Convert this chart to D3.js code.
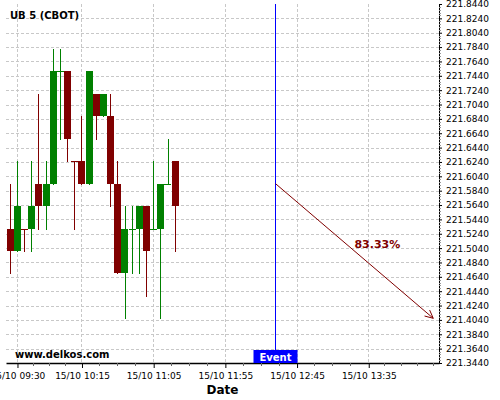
<!DOCTYPE html>
<html><head><meta charset="utf-8">
<script src="https://cdn.jsdelivr.net/npm/d3@7"></script>
<style>body{margin:0;background:#fff;} svg{display:block;font-family:"DejaVu Sans",sans-serif;}</style>
</head><body><svg id="c" width="500" height="400"></svg>
<script>
// ---- data ----
const title = "UB 5 (CBOT)";
const day = "15/10";
const times  = ["09:25","09:30","09:35","09:40","09:45","09:50","09:55","10:00","10:05","10:10","10:15","10:20",
                "10:25","10:30","10:35","10:40","10:45","10:50","10:55","11:00","11:05","11:10","11:15","11:20"];
const opens  = [221.53125,221.5,221.53125,221.53125,221.59375,221.5625,221.59375,221.75,221.75,221.625,221.625,221.59375,
                221.71875,221.6875,221.6875,221.59375,221.46875,221.53125,221.53125,221.5625,221.53125,221.53125,221.59375,221.625];
const highs  = [221.59375,221.625,221.53125,221.625,221.71875,221.625,221.78125,221.78125,221.75,221.625,221.6875,221.75,
                221.71875,221.71875,221.71875,221.625,221.5625,221.5625,221.5625,221.5625,221.625,221.59375,221.65625,221.625];
const lows   = [221.46875,221.5,221.5,221.5,221.53125,221.53125,221.59375,221.65625,221.625,221.53125,221.59375,221.59375,
                221.65625,221.6875,221.5625,221.46875,221.40625,221.46875,221.46875,221.4375,221.53125,221.40625,221.59375,221.5];
const closes = [221.5,221.5625,221.53125,221.5625,221.5625,221.59375,221.75,221.75,221.65625,221.625,221.59375,221.75,
                221.6875,221.71875,221.59375,221.46875,221.53125,221.53125,221.5625,221.5,221.53125,221.59375,221.59375,221.5625];
const xDomainTimes = ["09:22","14:24"];
const xTickTimes = ["09:30","10:15","11:05","11:55","12:45","13:35"];
const yDomain = [221.344, 221.844];
const yTickValues = [221.344,221.364,221.384,221.404,221.424,221.444,221.464,221.484,221.504,221.524,221.544,221.564,221.584,
                     221.604,221.624,221.644,221.664,221.684,221.704,221.724,221.744,221.764,221.784,221.804,221.824,221.844];
const eventTime = "12:30";
const eventLabel = "Event";
const arrowFrom = ["12:30", 221.59375];
const arrowTo   = ["14:20", 221.40625];
const arrowLabel = "83.33%";
const xTitle = "Date";
const watermark = "www.delkos.com";

// ---- setup ----
const parse = d3.timeParse("%d/%m %H:%M");
const t = s => parse(day + " " + s);
const svg = d3.select("#c");
const L = 6, R = 439, T = 4, B = 363;
const x = d3.scaleTime().domain(xDomainTimes.map(t)).range([L, R]);
const y = d3.scaleLinear().domain(yDomain).range([B, T]);
const GREEN = "#008000", RED = "#800000";

// grid
const grid = svg.append("g");
grid.selectAll(".hg").data(yTickValues.slice(1, -1)).enter().append("line")
  .attr("x1", L).attr("x2", R)
  .attr("y1", d => Math.round(y(d)) + 0.5).attr("y2", d => Math.round(y(d)) + 0.5)
  .attr("stroke", "#c8c8c8").attr("stroke-dasharray", "3,2");
grid.selectAll(".vg").data(xTickTimes.map(t)).enter().append("line")
  .attr("y1", T).attr("y2", B)
  .attr("x1", d => Math.floor(x(d)) + 0.5).attr("x2", d => Math.floor(x(d)) + 0.5)
  .attr("stroke", "#c8c8c8").attr("stroke-dasharray", "3,2");

// candles
const data = times.map((s, i) => ({t: t(s), o: opens[i], h: highs[i], l: lows[i], c: closes[i],
  pc: i > 0 ? closes[i-1] : opens[i]}));
const col = d => d.c < d.o ? RED : d.c > d.o ? GREEN : (d.c < d.pc ? RED : GREEN);
const slot = x(t("09:30")) - x(t("09:25"));
const cg = svg.append("g");
cg.selectAll(".w").data(data).enter().append("line")
  .attr("x1", d => Math.floor(x(d.t)) + 0.5).attr("x2", d => Math.floor(x(d.t)) + 0.5)
  .attr("y1", d => Math.round(y(d.h))).attr("y2", d => Math.round(y(d.l)) + 1)
  .attr("stroke", col).attr("stroke-width", 1);
cg.selectAll(".b").data(data).enter().append("rect")
  .attr("x", d => Math.round(x(d.t) - slot / 2))
  .attr("width", Math.round(slot))
  .attr("y", d => Math.round(y(Math.max(d.o, d.c))))
  .attr("height", d => Math.max(1, Math.round(y(Math.min(d.o, d.c))) - Math.round(y(Math.max(d.o, d.c)))))
  .attr("fill", col);

// axes
const xAxis = d3.axisBottom(x).tickValues(xTickTimes.map(t)).tickFormat(d3.timeFormat("%d/%m %H:%M"))
  .tickSize(5).tickSizeOuter(0).tickPadding(5);
const gx = svg.append("g").attr("transform", `translate(0,${B})`).call(xAxis);
gx.select(".domain").attr("stroke", "#000").attr("stroke-width", 1.5);
gx.selectAll("text").attr("font-size", 9).attr("font-family", "DejaVu Sans").attr("fill", "#000");
// minor x ticks
const majors = xTickTimes.map(t);
const minors = [];
for (let i = 0; i < majors.length - 1; i++) {
  const a = +majors[i], b = +majors[i+1];
  for (let k = 1; k < 4; k++) minors.push(new Date(a + (b - a) * k / 4));
}
{
  const step = (+majors[1] - +majors[0]) / 4;
  for (let v = +majors[majors.length-1] + step; v < +x.domain()[1]; v += step) minors.push(new Date(v));
  for (let v = +majors[0] - step; v > +x.domain()[0]; v -= step) minors.push(new Date(v));
}
svg.append("g").selectAll("line").data(minors).enter().append("line")
  .attr("x1", d => Math.floor(x(d)) + 0.5).attr("x2", d => Math.floor(x(d)) + 0.5)
  .attr("y1", B).attr("y2", B + 3).attr("stroke", "#666");

const yAxis = d3.axisRight(y).tickValues(yTickValues).tickFormat(d3.format(".4f"))
  .tickSize(3).tickSizeOuter(0).tickPadding(4);
const gy = svg.append("g").attr("transform", `translate(${R},0)`).call(yAxis);
gy.select(".domain").attr("stroke", "#000");
gy.selectAll("text").attr("font-size", 9).attr("font-family", "DejaVu Sans").attr("fill", "#000");
// minor y ticks
const yMinor = [];
for (let i = 0; i < yTickValues.length - 1; i++) {
  const a = yTickValues[i], b = yTickValues[i+1];
  for (let k = 1; k < 5; k++) yMinor.push(a + (b - a) * k / 5);
}
svg.append("g").selectAll("line").data(yMinor).enter().append("line")
  .attr("x1", R).attr("x2", R + 2)
  .attr("y1", d => Math.round(y(d)) + 0.5).attr("y2", d => Math.round(y(d)) + 0.5)
  .attr("stroke", "#999");

// event line + label
const ex = Math.floor(x(t(eventTime))) + 0.5;
svg.append("line").attr("x1", ex).attr("x2", ex).attr("y1", T).attr("y2", B - 12)
  .attr("stroke", "#0000ff").attr("stroke-width", 1);
svg.append("rect").attr("x", ex - 22).attr("y", B - 13).attr("width", 44).attr("height", 13).attr("fill", "#0000ff");
svg.append("text").attr("x", ex).attr("y", B - 2.5).attr("text-anchor", "middle")
  .attr("font-size", 10).attr("font-weight", "bold").attr("fill", "#fff").text(eventLabel);

// arrow
const x1 = x(t(arrowFrom[0])), y1 = y(arrowFrom[1]), x2 = x(t(arrowTo[0])), y2 = y(arrowTo[1]);
svg.append("line").attr("x1", x1).attr("y1", y1).attr("x2", x2).attr("y2", y2)
  .attr("stroke", RED).attr("stroke-width", 1);
const ang = Math.atan2(y2 - y1, x2 - x1), hl = 9, ha = 0.45;
svg.append("path")
  .attr("d", `M${x2 - hl*Math.cos(ang - ha)},${y2 - hl*Math.sin(ang - ha)}L${x2},${y2}L${x2 - hl*Math.cos(ang + ha)},${y2 - hl*Math.sin(ang + ha)}`)
  .attr("fill", "none").attr("stroke", RED).attr("stroke-width", 1);
svg.append("text").attr("x", (x1 + x2) / 2).attr("y", (y1 + y2) / 2 - 3)
  .attr("font-size", 11).attr("font-weight", "bold").attr("fill", RED).text(arrowLabel);

// texts
svg.append("text").attr("x", 10).attr("y", 19).attr("font-size", 10).attr("font-weight", "bold")
  .attr("fill", "#000").text(title);
svg.append("text").attr("x", 15).attr("y", 357.5).attr("font-size", 10).attr("font-weight", "bold")
  .attr("fill", "#000").text(watermark);
svg.append("text").attr("x", (L + R) / 2).attr("y", 394).attr("text-anchor", "middle")
  .attr("font-size", 12).attr("font-weight", "bold").attr("fill", "#000").text(xTitle);
</script></body></html>
